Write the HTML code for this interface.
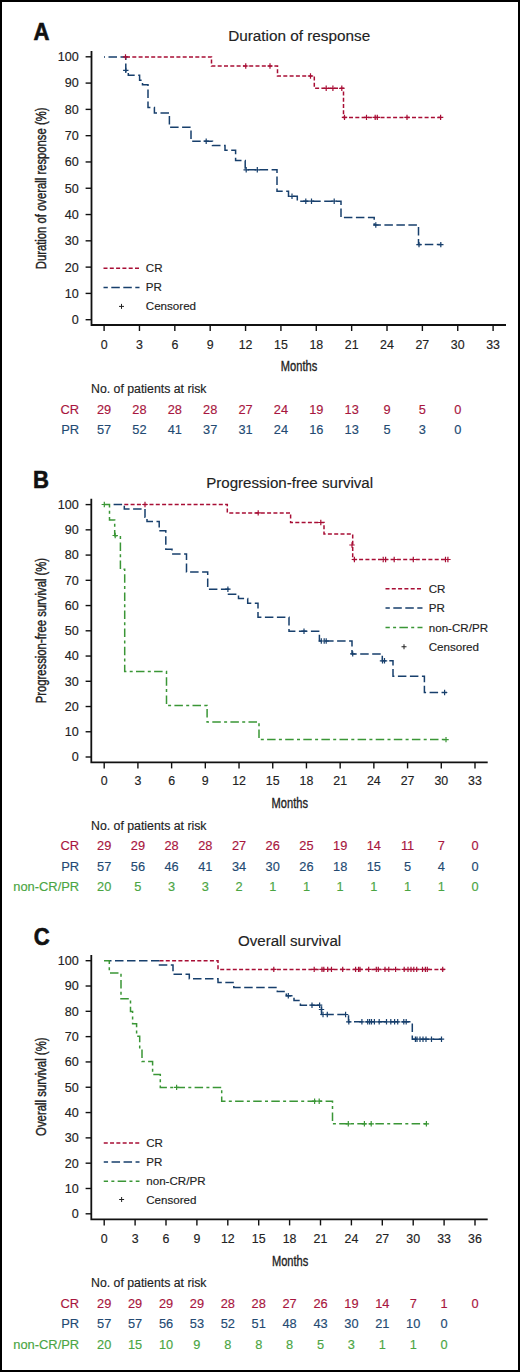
<!DOCTYPE html>
<html><head><meta charset="utf-8"><title>Figure</title>
<style>
html,body{margin:0;padding:0;background:#fff;}
body{width:520px;height:1372px;overflow:hidden;}
svg{display:block;font-family:"Liberation Sans",sans-serif;}
</style></head>
<body>
<svg width="520" height="1372" viewBox="0 0 520 1372">
<rect x="0" y="0" width="520" height="1372" fill="#fff"/>
<rect x="1" y="1" width="518" height="1370" fill="none" stroke="#000" stroke-width="2"/>
<path d="M91.5,51 V325 H506" fill="none" stroke="#111" stroke-width="1.8"/>
<line x1="85.6" y1="319.7" x2="91.5" y2="319.7" stroke="#111" stroke-width="1.4"/>
<text x="78.8" y="324.1" font-size="12.6" text-anchor="end" fill="#222" stroke="#222" stroke-width="0.15" >0</text>
<line x1="85.6" y1="293.41" x2="91.5" y2="293.41" stroke="#111" stroke-width="1.4"/>
<text x="78.8" y="297.81" font-size="12.6" text-anchor="end" fill="#222" stroke="#222" stroke-width="0.15" >10</text>
<line x1="85.6" y1="267.12" x2="91.5" y2="267.12" stroke="#111" stroke-width="1.4"/>
<text x="78.8" y="271.52" font-size="12.6" text-anchor="end" fill="#222" stroke="#222" stroke-width="0.15" >20</text>
<line x1="85.6" y1="240.83" x2="91.5" y2="240.83" stroke="#111" stroke-width="1.4"/>
<text x="78.8" y="245.23" font-size="12.6" text-anchor="end" fill="#222" stroke="#222" stroke-width="0.15" >30</text>
<line x1="85.6" y1="214.54" x2="91.5" y2="214.54" stroke="#111" stroke-width="1.4"/>
<text x="78.8" y="218.94" font-size="12.6" text-anchor="end" fill="#222" stroke="#222" stroke-width="0.15" >40</text>
<line x1="85.6" y1="188.25" x2="91.5" y2="188.25" stroke="#111" stroke-width="1.4"/>
<text x="78.8" y="192.65" font-size="12.6" text-anchor="end" fill="#222" stroke="#222" stroke-width="0.15" >50</text>
<line x1="85.6" y1="161.96" x2="91.5" y2="161.96" stroke="#111" stroke-width="1.4"/>
<text x="78.8" y="166.36" font-size="12.6" text-anchor="end" fill="#222" stroke="#222" stroke-width="0.15" >60</text>
<line x1="85.6" y1="135.67" x2="91.5" y2="135.67" stroke="#111" stroke-width="1.4"/>
<text x="78.8" y="140.07" font-size="12.6" text-anchor="end" fill="#222" stroke="#222" stroke-width="0.15" >70</text>
<line x1="85.6" y1="109.38" x2="91.5" y2="109.38" stroke="#111" stroke-width="1.4"/>
<text x="78.8" y="113.78" font-size="12.6" text-anchor="end" fill="#222" stroke="#222" stroke-width="0.15" >80</text>
<line x1="85.6" y1="83.09" x2="91.5" y2="83.09" stroke="#111" stroke-width="1.4"/>
<text x="78.8" y="87.49" font-size="12.6" text-anchor="end" fill="#222" stroke="#222" stroke-width="0.15" >90</text>
<line x1="85.6" y1="56.8" x2="91.5" y2="56.8" stroke="#111" stroke-width="1.4"/>
<text x="78.8" y="61.2" font-size="12.6" text-anchor="end" fill="#222" stroke="#222" stroke-width="0.15" >100</text>
<line x1="104.1" y1="325" x2="104.1" y2="331" stroke="#111" stroke-width="1.4"/>
<text x="104.1" y="348.7" font-size="12.4" text-anchor="middle" fill="#222" stroke="#222" stroke-width="0.15" >0</text>
<line x1="139.46" y1="325" x2="139.46" y2="331" stroke="#111" stroke-width="1.4"/>
<text x="139.46" y="348.7" font-size="12.4" text-anchor="middle" fill="#222" stroke="#222" stroke-width="0.15" >3</text>
<line x1="174.83" y1="325" x2="174.83" y2="331" stroke="#111" stroke-width="1.4"/>
<text x="174.83" y="348.7" font-size="12.4" text-anchor="middle" fill="#222" stroke="#222" stroke-width="0.15" >6</text>
<line x1="210.19" y1="325" x2="210.19" y2="331" stroke="#111" stroke-width="1.4"/>
<text x="210.19" y="348.7" font-size="12.4" text-anchor="middle" fill="#222" stroke="#222" stroke-width="0.15" >9</text>
<line x1="245.56" y1="325" x2="245.56" y2="331" stroke="#111" stroke-width="1.4"/>
<text x="245.56" y="348.7" font-size="12.4" text-anchor="middle" fill="#222" stroke="#222" stroke-width="0.15" >12</text>
<line x1="280.92" y1="325" x2="280.92" y2="331" stroke="#111" stroke-width="1.4"/>
<text x="280.92" y="348.7" font-size="12.4" text-anchor="middle" fill="#222" stroke="#222" stroke-width="0.15" >15</text>
<line x1="316.28" y1="325" x2="316.28" y2="331" stroke="#111" stroke-width="1.4"/>
<text x="316.28" y="348.7" font-size="12.4" text-anchor="middle" fill="#222" stroke="#222" stroke-width="0.15" >18</text>
<line x1="351.65" y1="325" x2="351.65" y2="331" stroke="#111" stroke-width="1.4"/>
<text x="351.65" y="348.7" font-size="12.4" text-anchor="middle" fill="#222" stroke="#222" stroke-width="0.15" >21</text>
<line x1="387.01" y1="325" x2="387.01" y2="331" stroke="#111" stroke-width="1.4"/>
<text x="387.01" y="348.7" font-size="12.4" text-anchor="middle" fill="#222" stroke="#222" stroke-width="0.15" >24</text>
<line x1="422.38" y1="325" x2="422.38" y2="331" stroke="#111" stroke-width="1.4"/>
<text x="422.38" y="348.7" font-size="12.4" text-anchor="middle" fill="#222" stroke="#222" stroke-width="0.15" >27</text>
<line x1="457.74" y1="325" x2="457.74" y2="331" stroke="#111" stroke-width="1.4"/>
<text x="457.74" y="348.7" font-size="12.4" text-anchor="middle" fill="#222" stroke="#222" stroke-width="0.15" >30</text>
<line x1="493.1" y1="325" x2="493.1" y2="331" stroke="#111" stroke-width="1.4"/>
<text x="493.1" y="348.7" font-size="12.4" text-anchor="middle" fill="#222" stroke="#222" stroke-width="0.15" >33</text>
<text transform="translate(299,371.3) scale(0.735,1)" font-size="15.1" text-anchor="middle" fill="#222" stroke="#222" stroke-width="0.35">Months</text>
<text transform="translate(46.3,188.4) rotate(-90) scale(0.728,1)" font-size="15.5" text-anchor="middle" fill="#222" stroke="#222" stroke-width="0.4">Duration of overall response (%)</text>
<text x="299.2" y="40.9" font-size="15.1" text-anchor="middle" fill="#222" stroke="#222" stroke-width="0.15" textLength="142" lengthAdjust="spacingAndGlyphs">Duration of response</text>
<text transform="translate(33.5,40) scale(0.94,1.04)" font-size="23.5" font-weight="bold" fill="#111" stroke="#111" stroke-width="0.6">A</text>
<path d="M126,56.9 H211.5 V66 H277.5 V76 H314.3 V88.3 H343.5 V117.4 H442" fill="none" stroke="#a80e35" stroke-width="1.5" stroke-dasharray="4 2.3" stroke-dashoffset="0"/>
<path d="M104,56.9 H125.8 V71.5 H128.3 V75.2 H139.6 V80.3 H142.5 V84.8 H148 V107.5 H154.4 V112.9 H169.4 V127.3 H191 V141.2 H212.5 V145.4 H225 V150.2 H235.6 V160.4 H245.2 V169.8 H277 V191.2 H288.5 V196.3 H297.3 V201.2 H341 V217.5 H374.2 V225 H418.5 V244.6 H441.5" fill="none" stroke="#173f6c" stroke-width="1.5" stroke-dasharray="8.5 3.5" stroke-dashoffset="7.5"/>
<path d="M125.5,54.2v5.4M122.8,56.9h5.4M245.75,63.3v5.4M243.05,66h5.4M270,63.3v5.4M267.3,66h5.4M310.5,73.3v5.4M307.8,76h5.4M326.2,85.6v5.4M323.5,88.3h5.4M332.9,85.6v5.4M330.2,88.3h5.4M341.8,85.6v5.4M339.1,88.3h5.4M344.5,114.7v5.4M341.8,117.4h5.4M366.5,114.7v5.4M363.8,117.4h5.4M375.2,114.7v5.4M372.5,117.4h5.4M377.3,114.7v5.4M374.6,117.4h5.4M407,114.7v5.4M404.3,117.4h5.4M440.6,114.7v5.4M437.9,117.4h5.4" fill="none" stroke="#a80e35" stroke-width="1.2"/>
<path d="M125.8,67.7v5.4M123.1,70.4h5.4M206.2,138.5v5.4M203.5,141.2h5.4M246.2,167.1v5.4M243.5,169.8h5.4M257.3,167.1v5.4M254.6,169.8h5.4M292,193.6v5.4M289.3,196.3h5.4M305.8,198.5v5.4M303.1,201.2h5.4M311.5,198.5v5.4M308.8,201.2h5.4M334.2,198.5v5.4M331.5,201.2h5.4M375.8,222.3v5.4M373.1,225h5.4M419,241.9v5.4M416.3,244.6h5.4M440.8,241.9v5.4M438.1,244.6h5.4" fill="none" stroke="#173f6c" stroke-width="1.2"/>
<line x1="103.5" y1="268.3" x2="139.5" y2="268.3" stroke="#a80e35" stroke-width="1.5" stroke-dasharray="4 2.3" stroke-dashoffset="0"/>
<text x="145.8" y="271.9" font-size="11.6" text-anchor="start" fill="#222" stroke="#222" stroke-width="0.15" >CR</text>
<line x1="103.5" y1="287.4" x2="139.5" y2="287.4" stroke="#173f6c" stroke-width="1.5" stroke-dasharray="8.5 3.5" stroke-dashoffset="4.2"/>
<text x="145.8" y="291" font-size="11.6" text-anchor="start" fill="#222" stroke="#222" stroke-width="0.15" >PR</text>
<path d="M121.5,303.9v5M119,306.4h5" stroke="#222" stroke-width="1"/>
<text x="145.8" y="310.4" font-size="11.6" text-anchor="start" fill="#222" stroke="#222" stroke-width="0.15" >Censored</text>
<text x="91" y="393" font-size="12.3" text-anchor="start" fill="#222" stroke="#222" stroke-width="0.15" >No. of patients at risk</text>
<text x="79.2" y="413.5" font-size="12.9" text-anchor="end" fill="#a8163e" stroke="#a8163e" stroke-width="0.15" >CR</text>
<text x="104.1" y="413.5" font-size="12.8" text-anchor="middle" fill="#a8163e" stroke="#a8163e" stroke-width="0.15" >29</text>
<text x="139.46" y="413.5" font-size="12.8" text-anchor="middle" fill="#a8163e" stroke="#a8163e" stroke-width="0.15" >28</text>
<text x="174.83" y="413.5" font-size="12.8" text-anchor="middle" fill="#a8163e" stroke="#a8163e" stroke-width="0.15" >28</text>
<text x="210.19" y="413.5" font-size="12.8" text-anchor="middle" fill="#a8163e" stroke="#a8163e" stroke-width="0.15" >28</text>
<text x="245.56" y="413.5" font-size="12.8" text-anchor="middle" fill="#a8163e" stroke="#a8163e" stroke-width="0.15" >27</text>
<text x="280.92" y="413.5" font-size="12.8" text-anchor="middle" fill="#a8163e" stroke="#a8163e" stroke-width="0.15" >24</text>
<text x="316.28" y="413.5" font-size="12.8" text-anchor="middle" fill="#a8163e" stroke="#a8163e" stroke-width="0.15" >19</text>
<text x="351.65" y="413.5" font-size="12.8" text-anchor="middle" fill="#a8163e" stroke="#a8163e" stroke-width="0.15" >13</text>
<text x="387.01" y="413.5" font-size="12.8" text-anchor="middle" fill="#a8163e" stroke="#a8163e" stroke-width="0.15" >9</text>
<text x="422.38" y="413.5" font-size="12.8" text-anchor="middle" fill="#a8163e" stroke="#a8163e" stroke-width="0.15" >5</text>
<text x="457.74" y="413.5" font-size="12.8" text-anchor="middle" fill="#a8163e" stroke="#a8163e" stroke-width="0.15" >0</text>
<text x="79.2" y="433.8" font-size="12.9" text-anchor="end" fill="#234a72" stroke="#234a72" stroke-width="0.15" >PR</text>
<text x="104.1" y="433.8" font-size="12.8" text-anchor="middle" fill="#234a72" stroke="#234a72" stroke-width="0.15" >57</text>
<text x="139.46" y="433.8" font-size="12.8" text-anchor="middle" fill="#234a72" stroke="#234a72" stroke-width="0.15" >52</text>
<text x="174.83" y="433.8" font-size="12.8" text-anchor="middle" fill="#234a72" stroke="#234a72" stroke-width="0.15" >41</text>
<text x="210.19" y="433.8" font-size="12.8" text-anchor="middle" fill="#234a72" stroke="#234a72" stroke-width="0.15" >37</text>
<text x="245.56" y="433.8" font-size="12.8" text-anchor="middle" fill="#234a72" stroke="#234a72" stroke-width="0.15" >31</text>
<text x="280.92" y="433.8" font-size="12.8" text-anchor="middle" fill="#234a72" stroke="#234a72" stroke-width="0.15" >24</text>
<text x="316.28" y="433.8" font-size="12.8" text-anchor="middle" fill="#234a72" stroke="#234a72" stroke-width="0.15" >16</text>
<text x="351.65" y="433.8" font-size="12.8" text-anchor="middle" fill="#234a72" stroke="#234a72" stroke-width="0.15" >13</text>
<text x="387.01" y="433.8" font-size="12.8" text-anchor="middle" fill="#234a72" stroke="#234a72" stroke-width="0.15" >5</text>
<text x="422.38" y="433.8" font-size="12.8" text-anchor="middle" fill="#234a72" stroke="#234a72" stroke-width="0.15" >3</text>
<text x="457.74" y="433.8" font-size="12.8" text-anchor="middle" fill="#234a72" stroke="#234a72" stroke-width="0.15" >0</text>
<path d="M91.3,498.75 V762.4 H487.7" fill="none" stroke="#111" stroke-width="1.8"/>
<line x1="85.6" y1="757" x2="91.3" y2="757" stroke="#111" stroke-width="1.4"/>
<text x="78.8" y="761.4" font-size="12.6" text-anchor="end" fill="#222" stroke="#222" stroke-width="0.15" >0</text>
<line x1="85.6" y1="731.76" x2="91.3" y2="731.76" stroke="#111" stroke-width="1.4"/>
<text x="78.8" y="736.16" font-size="12.6" text-anchor="end" fill="#222" stroke="#222" stroke-width="0.15" >10</text>
<line x1="85.6" y1="706.52" x2="91.3" y2="706.52" stroke="#111" stroke-width="1.4"/>
<text x="78.8" y="710.92" font-size="12.6" text-anchor="end" fill="#222" stroke="#222" stroke-width="0.15" >20</text>
<line x1="85.6" y1="681.28" x2="91.3" y2="681.28" stroke="#111" stroke-width="1.4"/>
<text x="78.8" y="685.68" font-size="12.6" text-anchor="end" fill="#222" stroke="#222" stroke-width="0.15" >30</text>
<line x1="85.6" y1="656.04" x2="91.3" y2="656.04" stroke="#111" stroke-width="1.4"/>
<text x="78.8" y="660.44" font-size="12.6" text-anchor="end" fill="#222" stroke="#222" stroke-width="0.15" >40</text>
<line x1="85.6" y1="630.8" x2="91.3" y2="630.8" stroke="#111" stroke-width="1.4"/>
<text x="78.8" y="635.2" font-size="12.6" text-anchor="end" fill="#222" stroke="#222" stroke-width="0.15" >50</text>
<line x1="85.6" y1="605.56" x2="91.3" y2="605.56" stroke="#111" stroke-width="1.4"/>
<text x="78.8" y="609.96" font-size="12.6" text-anchor="end" fill="#222" stroke="#222" stroke-width="0.15" >60</text>
<line x1="85.6" y1="580.32" x2="91.3" y2="580.32" stroke="#111" stroke-width="1.4"/>
<text x="78.8" y="584.72" font-size="12.6" text-anchor="end" fill="#222" stroke="#222" stroke-width="0.15" >70</text>
<line x1="85.6" y1="555.08" x2="91.3" y2="555.08" stroke="#111" stroke-width="1.4"/>
<text x="78.8" y="559.48" font-size="12.6" text-anchor="end" fill="#222" stroke="#222" stroke-width="0.15" >80</text>
<line x1="85.6" y1="529.84" x2="91.3" y2="529.84" stroke="#111" stroke-width="1.4"/>
<text x="78.8" y="534.24" font-size="12.6" text-anchor="end" fill="#222" stroke="#222" stroke-width="0.15" >90</text>
<line x1="85.6" y1="504.6" x2="91.3" y2="504.6" stroke="#111" stroke-width="1.4"/>
<text x="78.8" y="509" font-size="12.6" text-anchor="end" fill="#222" stroke="#222" stroke-width="0.15" >100</text>
<line x1="104.2" y1="762.4" x2="104.2" y2="768.4" stroke="#111" stroke-width="1.4"/>
<text x="104.2" y="785.2" font-size="12.4" text-anchor="middle" fill="#222" stroke="#222" stroke-width="0.15" >0</text>
<line x1="137.91" y1="762.4" x2="137.91" y2="768.4" stroke="#111" stroke-width="1.4"/>
<text x="137.91" y="785.2" font-size="12.4" text-anchor="middle" fill="#222" stroke="#222" stroke-width="0.15" >3</text>
<line x1="171.62" y1="762.4" x2="171.62" y2="768.4" stroke="#111" stroke-width="1.4"/>
<text x="171.62" y="785.2" font-size="12.4" text-anchor="middle" fill="#222" stroke="#222" stroke-width="0.15" >6</text>
<line x1="205.32" y1="762.4" x2="205.32" y2="768.4" stroke="#111" stroke-width="1.4"/>
<text x="205.32" y="785.2" font-size="12.4" text-anchor="middle" fill="#222" stroke="#222" stroke-width="0.15" >9</text>
<line x1="239.03" y1="762.4" x2="239.03" y2="768.4" stroke="#111" stroke-width="1.4"/>
<text x="239.03" y="785.2" font-size="12.4" text-anchor="middle" fill="#222" stroke="#222" stroke-width="0.15" >12</text>
<line x1="272.74" y1="762.4" x2="272.74" y2="768.4" stroke="#111" stroke-width="1.4"/>
<text x="272.74" y="785.2" font-size="12.4" text-anchor="middle" fill="#222" stroke="#222" stroke-width="0.15" >15</text>
<line x1="306.45" y1="762.4" x2="306.45" y2="768.4" stroke="#111" stroke-width="1.4"/>
<text x="306.45" y="785.2" font-size="12.4" text-anchor="middle" fill="#222" stroke="#222" stroke-width="0.15" >18</text>
<line x1="340.16" y1="762.4" x2="340.16" y2="768.4" stroke="#111" stroke-width="1.4"/>
<text x="340.16" y="785.2" font-size="12.4" text-anchor="middle" fill="#222" stroke="#222" stroke-width="0.15" >21</text>
<line x1="373.86" y1="762.4" x2="373.86" y2="768.4" stroke="#111" stroke-width="1.4"/>
<text x="373.86" y="785.2" font-size="12.4" text-anchor="middle" fill="#222" stroke="#222" stroke-width="0.15" >24</text>
<line x1="407.57" y1="762.4" x2="407.57" y2="768.4" stroke="#111" stroke-width="1.4"/>
<text x="407.57" y="785.2" font-size="12.4" text-anchor="middle" fill="#222" stroke="#222" stroke-width="0.15" >27</text>
<line x1="441.28" y1="762.4" x2="441.28" y2="768.4" stroke="#111" stroke-width="1.4"/>
<text x="441.28" y="785.2" font-size="12.4" text-anchor="middle" fill="#222" stroke="#222" stroke-width="0.15" >30</text>
<line x1="474.99" y1="762.4" x2="474.99" y2="768.4" stroke="#111" stroke-width="1.4"/>
<text x="474.99" y="785.2" font-size="12.4" text-anchor="middle" fill="#222" stroke="#222" stroke-width="0.15" >33</text>
<text transform="translate(289.8,807.7) scale(0.735,1)" font-size="15.1" text-anchor="middle" fill="#222" stroke="#222" stroke-width="0.35">Months</text>
<text transform="translate(46.3,630.6) rotate(-90) scale(0.728,1)" font-size="15.5" text-anchor="middle" fill="#222" stroke="#222" stroke-width="0.4">Progression-free survival (%)</text>
<text x="289.65" y="488" font-size="15.1" text-anchor="middle" fill="#222" stroke="#222" stroke-width="0.15" >Progression-free survival</text>
<text transform="translate(32.9,487.5) scale(0.94,1.04)" font-size="23.5" font-weight="bold" fill="#111" stroke="#111" stroke-width="0.6">B</text>
<path d="M124.3,504.5 H227.3 V512.9 H290.6 V522.5 H324 V534 H352.7 V559.5 H448" fill="none" stroke="#a80e35" stroke-width="1.5" stroke-dasharray="4 2.3" stroke-dashoffset="0"/>
<path d="M113.6,504.5 H124.3 V509 H145 V517.3 H147 V521.6 H159.2 V530.8 H165.8 V549.2 H172 V554 H186.5 V572 H207.7 V589.2 H228.5 V594.2 H238.5 V598.5 H247.7 V603.3 H258 V617.2 H289 V631.2 H319.4 V641 H352 V653.9 H382.3 V660.8 H393 V676.2 H424.4 V692.5 H447" fill="none" stroke="#173f6c" stroke-width="1.5" stroke-dasharray="8.5 3.5" stroke-dashoffset="0"/>
<path d="M104,504.5 H109.5 V520 H114.7 V535.8 H120.4 V569.2 H124.7 V671.6 H166.5 V705.6 H207.1 V722 H259 V739.6 H447" fill="none" stroke="#3a9636" stroke-width="1.5" stroke-dasharray="8.5 3.3 3 3.3" stroke-dashoffset="0"/>
<path d="M145,501.8v5.4M142.3,504.5h5.4M258.2,510.2v5.4M255.5,512.9h5.4M320.8,519.8v5.4M318.1,522.5h5.4M352,542.3v5.4M349.3,545h5.4M354.4,556.8v5.4M351.7,559.5h5.4M383.2,556.8v5.4M380.5,559.5h5.4M385.6,556.8v5.4M382.9,559.5h5.4M394.2,556.8v5.4M391.5,559.5h5.4M413.3,556.8v5.4M410.6,559.5h5.4M445.5,556.8v5.4M442.8,559.5h5.4M447.9,556.8v5.4M445.2,559.5h5.4" fill="none" stroke="#a80e35" stroke-width="1.2"/>
<path d="M227.9,586.5v5.4M225.2,589.2h5.4M304,628.5v5.4M301.3,631.2h5.4M321.3,638.3v5.4M318.6,641h5.4M324.2,638.3v5.4M321.5,641h5.4M326.2,638.3v5.4M323.5,641h5.4M352.7,651.2v5.4M350,653.9h5.4M382.5,658.1v5.4M379.8,660.8h5.4M384.5,658.1v5.4M381.8,660.8h5.4M444.6,689.8v5.4M441.9,692.5h5.4" fill="none" stroke="#173f6c" stroke-width="1.2"/>
<path d="M104.3,501.8v5.4M101.6,504.5h5.4M115.2,532.8v5.4M112.5,535.5h5.4M446,736.9v5.4M443.3,739.6h5.4" fill="none" stroke="#3a9636" stroke-width="1.2"/>
<line x1="385.5" y1="588.75" x2="422.5" y2="588.75" stroke="#a80e35" stroke-width="1.5" stroke-dasharray="4 2.3" stroke-dashoffset="0"/>
<text x="428.75" y="592.5" font-size="11.6" text-anchor="start" fill="#222" stroke="#222" stroke-width="0.15" >CR</text>
<line x1="385.5" y1="608" x2="422.5" y2="608" stroke="#173f6c" stroke-width="1.5" stroke-dasharray="8.5 3.5" stroke-dashoffset="4.2"/>
<text x="428.75" y="612" font-size="11.6" text-anchor="start" fill="#222" stroke="#222" stroke-width="0.15" >PR</text>
<line x1="385.5" y1="627.5" x2="422.5" y2="627.5" stroke="#3a9636" stroke-width="1.5" stroke-dasharray="8.5 3.3 3 3.3" stroke-dashoffset="4.2"/>
<text x="428.75" y="631.5" font-size="11.6" text-anchor="start" fill="#222" stroke="#222" stroke-width="0.15" >non-CR/PR</text>
<path d="M404,644.25v5M401.5,646.75h5" stroke="#222" stroke-width="1"/>
<text x="428.75" y="650.6" font-size="11.6" text-anchor="start" fill="#222" stroke="#222" stroke-width="0.15" >Censored</text>
<text x="91" y="829.7" font-size="12.3" text-anchor="start" fill="#222" stroke="#222" stroke-width="0.15" >No. of patients at risk</text>
<text x="79.2" y="850.3" font-size="12.9" text-anchor="end" fill="#a8163e" stroke="#a8163e" stroke-width="0.15" >CR</text>
<text x="104.2" y="850.3" font-size="12.8" text-anchor="middle" fill="#a8163e" stroke="#a8163e" stroke-width="0.15" >29</text>
<text x="137.91" y="850.3" font-size="12.8" text-anchor="middle" fill="#a8163e" stroke="#a8163e" stroke-width="0.15" >29</text>
<text x="171.62" y="850.3" font-size="12.8" text-anchor="middle" fill="#a8163e" stroke="#a8163e" stroke-width="0.15" >28</text>
<text x="205.32" y="850.3" font-size="12.8" text-anchor="middle" fill="#a8163e" stroke="#a8163e" stroke-width="0.15" >28</text>
<text x="239.03" y="850.3" font-size="12.8" text-anchor="middle" fill="#a8163e" stroke="#a8163e" stroke-width="0.15" >27</text>
<text x="272.74" y="850.3" font-size="12.8" text-anchor="middle" fill="#a8163e" stroke="#a8163e" stroke-width="0.15" >26</text>
<text x="306.45" y="850.3" font-size="12.8" text-anchor="middle" fill="#a8163e" stroke="#a8163e" stroke-width="0.15" >25</text>
<text x="340.16" y="850.3" font-size="12.8" text-anchor="middle" fill="#a8163e" stroke="#a8163e" stroke-width="0.15" >19</text>
<text x="373.86" y="850.3" font-size="12.8" text-anchor="middle" fill="#a8163e" stroke="#a8163e" stroke-width="0.15" >14</text>
<text x="407.57" y="850.3" font-size="12.8" text-anchor="middle" fill="#a8163e" stroke="#a8163e" stroke-width="0.15" >11</text>
<text x="441.28" y="850.3" font-size="12.8" text-anchor="middle" fill="#a8163e" stroke="#a8163e" stroke-width="0.15" >7</text>
<text x="474.99" y="850.3" font-size="12.8" text-anchor="middle" fill="#a8163e" stroke="#a8163e" stroke-width="0.15" >0</text>
<text x="79.2" y="870.5" font-size="12.9" text-anchor="end" fill="#234a72" stroke="#234a72" stroke-width="0.15" >PR</text>
<text x="104.2" y="870.5" font-size="12.8" text-anchor="middle" fill="#234a72" stroke="#234a72" stroke-width="0.15" >57</text>
<text x="137.91" y="870.5" font-size="12.8" text-anchor="middle" fill="#234a72" stroke="#234a72" stroke-width="0.15" >56</text>
<text x="171.62" y="870.5" font-size="12.8" text-anchor="middle" fill="#234a72" stroke="#234a72" stroke-width="0.15" >46</text>
<text x="205.32" y="870.5" font-size="12.8" text-anchor="middle" fill="#234a72" stroke="#234a72" stroke-width="0.15" >41</text>
<text x="239.03" y="870.5" font-size="12.8" text-anchor="middle" fill="#234a72" stroke="#234a72" stroke-width="0.15" >34</text>
<text x="272.74" y="870.5" font-size="12.8" text-anchor="middle" fill="#234a72" stroke="#234a72" stroke-width="0.15" >30</text>
<text x="306.45" y="870.5" font-size="12.8" text-anchor="middle" fill="#234a72" stroke="#234a72" stroke-width="0.15" >26</text>
<text x="340.16" y="870.5" font-size="12.8" text-anchor="middle" fill="#234a72" stroke="#234a72" stroke-width="0.15" >18</text>
<text x="373.86" y="870.5" font-size="12.8" text-anchor="middle" fill="#234a72" stroke="#234a72" stroke-width="0.15" >15</text>
<text x="407.57" y="870.5" font-size="12.8" text-anchor="middle" fill="#234a72" stroke="#234a72" stroke-width="0.15" >5</text>
<text x="441.28" y="870.5" font-size="12.8" text-anchor="middle" fill="#234a72" stroke="#234a72" stroke-width="0.15" >4</text>
<text x="474.99" y="870.5" font-size="12.8" text-anchor="middle" fill="#234a72" stroke="#234a72" stroke-width="0.15" >0</text>
<text x="79.2" y="891.2" font-size="12.9" text-anchor="end" fill="#4aa543" stroke="#4aa543" stroke-width="0.15" >non-CR/PR</text>
<text x="104.2" y="891.2" font-size="12.8" text-anchor="middle" fill="#4aa543" stroke="#4aa543" stroke-width="0.15" >20</text>
<text x="137.91" y="891.2" font-size="12.8" text-anchor="middle" fill="#4aa543" stroke="#4aa543" stroke-width="0.15" >5</text>
<text x="171.62" y="891.2" font-size="12.8" text-anchor="middle" fill="#4aa543" stroke="#4aa543" stroke-width="0.15" >3</text>
<text x="205.32" y="891.2" font-size="12.8" text-anchor="middle" fill="#4aa543" stroke="#4aa543" stroke-width="0.15" >3</text>
<text x="239.03" y="891.2" font-size="12.8" text-anchor="middle" fill="#4aa543" stroke="#4aa543" stroke-width="0.15" >2</text>
<text x="272.74" y="891.2" font-size="12.8" text-anchor="middle" fill="#4aa543" stroke="#4aa543" stroke-width="0.15" >1</text>
<text x="306.45" y="891.2" font-size="12.8" text-anchor="middle" fill="#4aa543" stroke="#4aa543" stroke-width="0.15" >1</text>
<text x="340.16" y="891.2" font-size="12.8" text-anchor="middle" fill="#4aa543" stroke="#4aa543" stroke-width="0.15" >1</text>
<text x="373.86" y="891.2" font-size="12.8" text-anchor="middle" fill="#4aa543" stroke="#4aa543" stroke-width="0.15" >1</text>
<text x="407.57" y="891.2" font-size="12.8" text-anchor="middle" fill="#4aa543" stroke="#4aa543" stroke-width="0.15" >1</text>
<text x="441.28" y="891.2" font-size="12.8" text-anchor="middle" fill="#4aa543" stroke="#4aa543" stroke-width="0.15" >1</text>
<text x="474.99" y="891.2" font-size="12.8" text-anchor="middle" fill="#4aa543" stroke="#4aa543" stroke-width="0.15" >0</text>
<path d="M91.3,955 V1219.4 H487.7" fill="none" stroke="#111" stroke-width="1.8"/>
<line x1="85.6" y1="1213.8" x2="91.3" y2="1213.8" stroke="#111" stroke-width="1.4"/>
<text x="78.8" y="1218.2" font-size="12.6" text-anchor="end" fill="#222" stroke="#222" stroke-width="0.15" >0</text>
<line x1="85.6" y1="1188.49" x2="91.3" y2="1188.49" stroke="#111" stroke-width="1.4"/>
<text x="78.8" y="1192.89" font-size="12.6" text-anchor="end" fill="#222" stroke="#222" stroke-width="0.15" >10</text>
<line x1="85.6" y1="1163.18" x2="91.3" y2="1163.18" stroke="#111" stroke-width="1.4"/>
<text x="78.8" y="1167.58" font-size="12.6" text-anchor="end" fill="#222" stroke="#222" stroke-width="0.15" >20</text>
<line x1="85.6" y1="1137.87" x2="91.3" y2="1137.87" stroke="#111" stroke-width="1.4"/>
<text x="78.8" y="1142.27" font-size="12.6" text-anchor="end" fill="#222" stroke="#222" stroke-width="0.15" >30</text>
<line x1="85.6" y1="1112.56" x2="91.3" y2="1112.56" stroke="#111" stroke-width="1.4"/>
<text x="78.8" y="1116.96" font-size="12.6" text-anchor="end" fill="#222" stroke="#222" stroke-width="0.15" >40</text>
<line x1="85.6" y1="1087.25" x2="91.3" y2="1087.25" stroke="#111" stroke-width="1.4"/>
<text x="78.8" y="1091.65" font-size="12.6" text-anchor="end" fill="#222" stroke="#222" stroke-width="0.15" >50</text>
<line x1="85.6" y1="1061.94" x2="91.3" y2="1061.94" stroke="#111" stroke-width="1.4"/>
<text x="78.8" y="1066.34" font-size="12.6" text-anchor="end" fill="#222" stroke="#222" stroke-width="0.15" >60</text>
<line x1="85.6" y1="1036.63" x2="91.3" y2="1036.63" stroke="#111" stroke-width="1.4"/>
<text x="78.8" y="1041.03" font-size="12.6" text-anchor="end" fill="#222" stroke="#222" stroke-width="0.15" >70</text>
<line x1="85.6" y1="1011.32" x2="91.3" y2="1011.32" stroke="#111" stroke-width="1.4"/>
<text x="78.8" y="1015.72" font-size="12.6" text-anchor="end" fill="#222" stroke="#222" stroke-width="0.15" >80</text>
<line x1="85.6" y1="986.01" x2="91.3" y2="986.01" stroke="#111" stroke-width="1.4"/>
<text x="78.8" y="990.41" font-size="12.6" text-anchor="end" fill="#222" stroke="#222" stroke-width="0.15" >90</text>
<line x1="85.6" y1="960.7" x2="91.3" y2="960.7" stroke="#111" stroke-width="1.4"/>
<text x="78.8" y="965.1" font-size="12.6" text-anchor="end" fill="#222" stroke="#222" stroke-width="0.15" >100</text>
<line x1="104.2" y1="1219.4" x2="104.2" y2="1225.4" stroke="#111" stroke-width="1.4"/>
<text x="104.2" y="1242.6" font-size="12.4" text-anchor="middle" fill="#222" stroke="#222" stroke-width="0.15" >0</text>
<line x1="135.1" y1="1219.4" x2="135.1" y2="1225.4" stroke="#111" stroke-width="1.4"/>
<text x="135.1" y="1242.6" font-size="12.4" text-anchor="middle" fill="#222" stroke="#222" stroke-width="0.15" >3</text>
<line x1="166" y1="1219.4" x2="166" y2="1225.4" stroke="#111" stroke-width="1.4"/>
<text x="166" y="1242.6" font-size="12.4" text-anchor="middle" fill="#222" stroke="#222" stroke-width="0.15" >6</text>
<line x1="196.9" y1="1219.4" x2="196.9" y2="1225.4" stroke="#111" stroke-width="1.4"/>
<text x="196.9" y="1242.6" font-size="12.4" text-anchor="middle" fill="#222" stroke="#222" stroke-width="0.15" >9</text>
<line x1="227.8" y1="1219.4" x2="227.8" y2="1225.4" stroke="#111" stroke-width="1.4"/>
<text x="227.8" y="1242.6" font-size="12.4" text-anchor="middle" fill="#222" stroke="#222" stroke-width="0.15" >12</text>
<line x1="258.7" y1="1219.4" x2="258.7" y2="1225.4" stroke="#111" stroke-width="1.4"/>
<text x="258.7" y="1242.6" font-size="12.4" text-anchor="middle" fill="#222" stroke="#222" stroke-width="0.15" >15</text>
<line x1="289.6" y1="1219.4" x2="289.6" y2="1225.4" stroke="#111" stroke-width="1.4"/>
<text x="289.6" y="1242.6" font-size="12.4" text-anchor="middle" fill="#222" stroke="#222" stroke-width="0.15" >18</text>
<line x1="320.5" y1="1219.4" x2="320.5" y2="1225.4" stroke="#111" stroke-width="1.4"/>
<text x="320.5" y="1242.6" font-size="12.4" text-anchor="middle" fill="#222" stroke="#222" stroke-width="0.15" >21</text>
<line x1="351.4" y1="1219.4" x2="351.4" y2="1225.4" stroke="#111" stroke-width="1.4"/>
<text x="351.4" y="1242.6" font-size="12.4" text-anchor="middle" fill="#222" stroke="#222" stroke-width="0.15" >24</text>
<line x1="382.3" y1="1219.4" x2="382.3" y2="1225.4" stroke="#111" stroke-width="1.4"/>
<text x="382.3" y="1242.6" font-size="12.4" text-anchor="middle" fill="#222" stroke="#222" stroke-width="0.15" >27</text>
<line x1="413.2" y1="1219.4" x2="413.2" y2="1225.4" stroke="#111" stroke-width="1.4"/>
<text x="413.2" y="1242.6" font-size="12.4" text-anchor="middle" fill="#222" stroke="#222" stroke-width="0.15" >30</text>
<line x1="444.1" y1="1219.4" x2="444.1" y2="1225.4" stroke="#111" stroke-width="1.4"/>
<text x="444.1" y="1242.6" font-size="12.4" text-anchor="middle" fill="#222" stroke="#222" stroke-width="0.15" >33</text>
<line x1="475" y1="1219.4" x2="475" y2="1225.4" stroke="#111" stroke-width="1.4"/>
<text x="475" y="1242.6" font-size="12.4" text-anchor="middle" fill="#222" stroke="#222" stroke-width="0.15" >36</text>
<text transform="translate(290.1,1266.1) scale(0.735,1)" font-size="15.1" text-anchor="middle" fill="#222" stroke="#222" stroke-width="0.35">Months</text>
<text transform="translate(46.3,1086.7) rotate(-90) scale(0.733,1)" font-size="15.5" text-anchor="middle" fill="#222" stroke="#222" stroke-width="0.4">Overall survival (%)</text>
<text x="289.6" y="945.7" font-size="15.1" text-anchor="middle" fill="#222" stroke="#222" stroke-width="0.15" >Overall survival</text>
<text transform="translate(33.75,944.7) scale(0.94,1.04)" font-size="23.5" font-weight="bold" fill="#111" stroke="#111" stroke-width="0.6">C</text>
<path d="M159.5,960.8 H218 V969.4 H446" fill="none" stroke="#a80e35" stroke-width="1.5" stroke-dasharray="4 2.3" stroke-dashoffset="0"/>
<path d="M109.3,960.8 H159.5 V965 H173 V974.3 H189.3 V978.8 H218 V982.5 H233.8 V987.6 H277.3 V991.5 H286.3 V995.8 H294 V1000.6 H300.4 V1005.2 H321.5 V1014.5 H348.5 V1021.8 H412.3 V1039.2 H443" fill="none" stroke="#173f6c" stroke-width="1.5" stroke-dasharray="8.5 3.5" stroke-dashoffset="6.3"/>
<path d="M104,960.8 H109.3 V972.9 H121 V998.8 H130.5 V1011.5 H132.6 V1023.8 H136.6 V1036.2 H139.7 V1049 H142 V1061.5 H152.6 V1074.4 H160.3 V1087.4 H221.7 V1101.2 H332.5 V1123.8 H427.7" fill="none" stroke="#3a9636" stroke-width="1.5" stroke-dasharray="8.5 3.3 3 3.3" stroke-dashoffset="0"/>
<path d="M273.8,966.7v5.4M271.1,969.4h5.4M314.2,966.7v5.4M311.5,969.4h5.4M322,966.7v5.4M319.3,969.4h5.4M323.8,966.7v5.4M321.1,969.4h5.4M327.7,966.7v5.4M325,969.4h5.4M331.5,966.7v5.4M328.8,969.4h5.4M342.7,966.7v5.4M340,969.4h5.4M355.6,966.7v5.4M352.9,969.4h5.4M358.5,966.7v5.4M355.8,969.4h5.4M360,966.7v5.4M357.3,969.4h5.4M368.7,966.7v5.4M366,969.4h5.4M376.3,966.7v5.4M373.6,969.4h5.4M378.3,966.7v5.4M375.6,969.4h5.4M385,966.7v5.4M382.3,969.4h5.4M388.8,966.7v5.4M386.1,969.4h5.4M395.6,966.7v5.4M392.9,969.4h5.4M404.2,966.7v5.4M401.5,969.4h5.4M408,966.7v5.4M405.3,969.4h5.4M411,966.7v5.4M408.3,969.4h5.4M413.8,966.7v5.4M411.1,969.4h5.4M416.7,966.7v5.4M414,969.4h5.4M422.5,966.7v5.4M419.8,969.4h5.4M425.4,966.7v5.4M422.7,969.4h5.4M427.3,966.7v5.4M424.6,969.4h5.4M442.7,966.7v5.4M440,969.4h5.4" fill="none" stroke="#a80e35" stroke-width="1.2"/>
<path d="M288.3,993.1v5.4M285.6,995.8h5.4M312,1002.5v5.4M309.3,1005.2h5.4M319.6,1002.5v5.4M316.9,1005.2h5.4M321.5,1006.8v5.4M318.8,1009.5h5.4M323,1011.8v5.4M320.3,1014.5h5.4M327.3,1011.8v5.4M324.6,1014.5h5.4M345.6,1011.8v5.4M342.9,1014.5h5.4M348.8,1019.1v5.4M346.1,1021.8h5.4M361.9,1019.1v5.4M359.2,1021.8h5.4M367.7,1019.1v5.4M365,1021.8h5.4M369.6,1019.1v5.4M366.9,1021.8h5.4M371.5,1019.1v5.4M368.8,1021.8h5.4M374.4,1019.1v5.4M371.7,1021.8h5.4M379.2,1019.1v5.4M376.5,1021.8h5.4M386.5,1019.1v5.4M383.8,1021.8h5.4M390.8,1019.1v5.4M388.1,1021.8h5.4M394.6,1019.1v5.4M391.9,1021.8h5.4M397.7,1019.1v5.4M395,1021.8h5.4M403.8,1019.1v5.4M401.1,1021.8h5.4M406.2,1019.1v5.4M403.5,1021.8h5.4M415.4,1036.5v5.4M412.7,1039.2h5.4M417,1036.5v5.4M414.3,1039.2h5.4M420,1036.5v5.4M417.3,1039.2h5.4M423,1036.5v5.4M420.3,1039.2h5.4M426,1036.5v5.4M423.3,1039.2h5.4M431.5,1036.5v5.4M428.8,1039.2h5.4M441.5,1036.5v5.4M438.8,1039.2h5.4" fill="none" stroke="#173f6c" stroke-width="1.2"/>
<path d="M176.6,1084.7v5.4M173.9,1087.4h5.4M314.6,1098.5v5.4M311.9,1101.2h5.4M319.2,1098.5v5.4M316.5,1101.2h5.4M348.3,1121.1v5.4M345.6,1123.8h5.4M364.4,1121.1v5.4M361.7,1123.8h5.4M371.2,1121.1v5.4M368.5,1123.8h5.4M426.4,1121.1v5.4M423.7,1123.8h5.4" fill="none" stroke="#3a9636" stroke-width="1.2"/>
<line x1="103.75" y1="1143" x2="139.5" y2="1143" stroke="#a80e35" stroke-width="1.5" stroke-dasharray="4 2.3" stroke-dashoffset="0"/>
<text x="146.25" y="1146.75" font-size="11.6" text-anchor="start" fill="#222" stroke="#222" stroke-width="0.15" >CR</text>
<line x1="103.75" y1="1162" x2="139.5" y2="1162" stroke="#173f6c" stroke-width="1.5" stroke-dasharray="8.5 3.5" stroke-dashoffset="4.2"/>
<text x="146.25" y="1165.75" font-size="11.6" text-anchor="start" fill="#222" stroke="#222" stroke-width="0.15" >PR</text>
<line x1="103.75" y1="1181.25" x2="139.5" y2="1181.25" stroke="#3a9636" stroke-width="1.5" stroke-dasharray="8.5 3.3 3 3.3" stroke-dashoffset="4.2"/>
<text x="146.25" y="1185" font-size="11.6" text-anchor="start" fill="#222" stroke="#222" stroke-width="0.15" >non-CR/PR</text>
<path d="M121.62,1197v5M119.12,1199.5h5" stroke="#222" stroke-width="1"/>
<text x="146.25" y="1203.75" font-size="11.6" text-anchor="start" fill="#222" stroke="#222" stroke-width="0.15" >Censored</text>
<text x="91" y="1287.3" font-size="12.3" text-anchor="start" fill="#222" stroke="#222" stroke-width="0.15" >No. of patients at risk</text>
<text x="79.2" y="1307.8" font-size="12.9" text-anchor="end" fill="#a8163e" stroke="#a8163e" stroke-width="0.15" >CR</text>
<text x="104.2" y="1307.8" font-size="12.8" text-anchor="middle" fill="#a8163e" stroke="#a8163e" stroke-width="0.15" >29</text>
<text x="135.1" y="1307.8" font-size="12.8" text-anchor="middle" fill="#a8163e" stroke="#a8163e" stroke-width="0.15" >29</text>
<text x="166" y="1307.8" font-size="12.8" text-anchor="middle" fill="#a8163e" stroke="#a8163e" stroke-width="0.15" >29</text>
<text x="196.9" y="1307.8" font-size="12.8" text-anchor="middle" fill="#a8163e" stroke="#a8163e" stroke-width="0.15" >29</text>
<text x="227.8" y="1307.8" font-size="12.8" text-anchor="middle" fill="#a8163e" stroke="#a8163e" stroke-width="0.15" >28</text>
<text x="258.7" y="1307.8" font-size="12.8" text-anchor="middle" fill="#a8163e" stroke="#a8163e" stroke-width="0.15" >28</text>
<text x="289.6" y="1307.8" font-size="12.8" text-anchor="middle" fill="#a8163e" stroke="#a8163e" stroke-width="0.15" >27</text>
<text x="320.5" y="1307.8" font-size="12.8" text-anchor="middle" fill="#a8163e" stroke="#a8163e" stroke-width="0.15" >26</text>
<text x="351.4" y="1307.8" font-size="12.8" text-anchor="middle" fill="#a8163e" stroke="#a8163e" stroke-width="0.15" >19</text>
<text x="382.3" y="1307.8" font-size="12.8" text-anchor="middle" fill="#a8163e" stroke="#a8163e" stroke-width="0.15" >14</text>
<text x="413.2" y="1307.8" font-size="12.8" text-anchor="middle" fill="#a8163e" stroke="#a8163e" stroke-width="0.15" >7</text>
<text x="444.1" y="1307.8" font-size="12.8" text-anchor="middle" fill="#a8163e" stroke="#a8163e" stroke-width="0.15" >1</text>
<text x="475" y="1307.8" font-size="12.8" text-anchor="middle" fill="#a8163e" stroke="#a8163e" stroke-width="0.15" >0</text>
<text x="79.2" y="1328" font-size="12.9" text-anchor="end" fill="#234a72" stroke="#234a72" stroke-width="0.15" >PR</text>
<text x="104.2" y="1328" font-size="12.8" text-anchor="middle" fill="#234a72" stroke="#234a72" stroke-width="0.15" >57</text>
<text x="135.1" y="1328" font-size="12.8" text-anchor="middle" fill="#234a72" stroke="#234a72" stroke-width="0.15" >57</text>
<text x="166" y="1328" font-size="12.8" text-anchor="middle" fill="#234a72" stroke="#234a72" stroke-width="0.15" >56</text>
<text x="196.9" y="1328" font-size="12.8" text-anchor="middle" fill="#234a72" stroke="#234a72" stroke-width="0.15" >53</text>
<text x="227.8" y="1328" font-size="12.8" text-anchor="middle" fill="#234a72" stroke="#234a72" stroke-width="0.15" >52</text>
<text x="258.7" y="1328" font-size="12.8" text-anchor="middle" fill="#234a72" stroke="#234a72" stroke-width="0.15" >51</text>
<text x="289.6" y="1328" font-size="12.8" text-anchor="middle" fill="#234a72" stroke="#234a72" stroke-width="0.15" >48</text>
<text x="320.5" y="1328" font-size="12.8" text-anchor="middle" fill="#234a72" stroke="#234a72" stroke-width="0.15" >43</text>
<text x="351.4" y="1328" font-size="12.8" text-anchor="middle" fill="#234a72" stroke="#234a72" stroke-width="0.15" >30</text>
<text x="382.3" y="1328" font-size="12.8" text-anchor="middle" fill="#234a72" stroke="#234a72" stroke-width="0.15" >21</text>
<text x="413.2" y="1328" font-size="12.8" text-anchor="middle" fill="#234a72" stroke="#234a72" stroke-width="0.15" >10</text>
<text x="444.1" y="1328" font-size="12.8" text-anchor="middle" fill="#234a72" stroke="#234a72" stroke-width="0.15" >0</text>
<text x="79.2" y="1348.5" font-size="12.9" text-anchor="end" fill="#4aa543" stroke="#4aa543" stroke-width="0.15" >non-CR/PR</text>
<text x="104.2" y="1348.5" font-size="12.8" text-anchor="middle" fill="#4aa543" stroke="#4aa543" stroke-width="0.15" >20</text>
<text x="135.1" y="1348.5" font-size="12.8" text-anchor="middle" fill="#4aa543" stroke="#4aa543" stroke-width="0.15" >15</text>
<text x="166" y="1348.5" font-size="12.8" text-anchor="middle" fill="#4aa543" stroke="#4aa543" stroke-width="0.15" >10</text>
<text x="196.9" y="1348.5" font-size="12.8" text-anchor="middle" fill="#4aa543" stroke="#4aa543" stroke-width="0.15" >9</text>
<text x="227.8" y="1348.5" font-size="12.8" text-anchor="middle" fill="#4aa543" stroke="#4aa543" stroke-width="0.15" >8</text>
<text x="258.7" y="1348.5" font-size="12.8" text-anchor="middle" fill="#4aa543" stroke="#4aa543" stroke-width="0.15" >8</text>
<text x="289.6" y="1348.5" font-size="12.8" text-anchor="middle" fill="#4aa543" stroke="#4aa543" stroke-width="0.15" >8</text>
<text x="320.5" y="1348.5" font-size="12.8" text-anchor="middle" fill="#4aa543" stroke="#4aa543" stroke-width="0.15" >5</text>
<text x="351.4" y="1348.5" font-size="12.8" text-anchor="middle" fill="#4aa543" stroke="#4aa543" stroke-width="0.15" >3</text>
<text x="382.3" y="1348.5" font-size="12.8" text-anchor="middle" fill="#4aa543" stroke="#4aa543" stroke-width="0.15" >1</text>
<text x="413.2" y="1348.5" font-size="12.8" text-anchor="middle" fill="#4aa543" stroke="#4aa543" stroke-width="0.15" >1</text>
<text x="444.1" y="1348.5" font-size="12.8" text-anchor="middle" fill="#4aa543" stroke="#4aa543" stroke-width="0.15" >0</text>
</svg>
</body></html>
